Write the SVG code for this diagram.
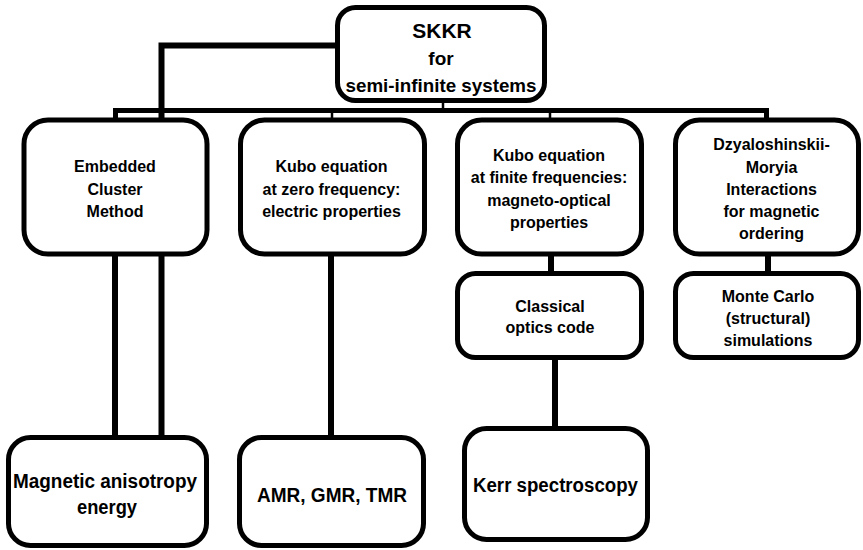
<svg xmlns="http://www.w3.org/2000/svg" width="863" height="550" viewBox="0 0 863 550">
  <style>
    .box { fill: #fff; stroke: #000; stroke-width: 5; }
    .wire { fill: none; stroke: #000; stroke-width: 6; }
    .bar { fill: none; stroke: #000; stroke-width: 5; }
    .tick { fill: none; stroke: #000; stroke-width: 2.5; }
    text { font-family: "Liberation Sans", Arial, sans-serif; font-weight: bold; fill: #000; text-anchor: middle; }
    .t16 { font-size: 16px; }
    .t20 { font-size: 20px; }
  </style>
  <rect width="863" height="550" fill="#fff"/>

  <!-- connectors -->
  <g id="connectors">
    <path class="wire" d="M337 45.5 H161.5 V119"/>
    <path class="bar" d="M115.5 118 V110.5 H766.5 V118"/>
    <path class="tick" d="M443 100 V110"/>
    <path class="tick" d="M332 110 V118"/>
    <path class="tick" d="M550 110 V118"/>
    <path class="wire" d="M115 254 V437"/>
    <path class="wire" d="M161.5 254 V437"/>
    <path class="wire" d="M331 254 V437"/>
    <path class="wire" d="M551 254 V274"/>
    <path class="wire" d="M768 254 V274"/>
    <path class="wire" d="M555 357 V429"/>
  </g>

  <g id="skkr">
    <rect class="box" x="337.5" y="7.5" width="207" height="93" rx="18"/>
    <text x="442" y="37.5" style="font-size:21px">SKKR</text>
    <text x="441" y="65" style="font-size:19px">for</text>
    <text x="441" y="91.5" style="font-size:19px" textLength="191" lengthAdjust="spacingAndGlyphs">semi-infinite systems</text>
  </g>

  <g id="embedded-cluster">
    <rect class="box" x="24" y="120" width="183" height="134" rx="24"/>
    <text class="t16" x="115" y="172">Embedded</text>
    <text class="t16" x="115" y="194.5">Cluster</text>
    <text class="t16" x="115" y="217">Method</text>
  </g>

  <g id="kubo-zero">
    <rect class="box" x="240.5" y="120" width="184" height="134" rx="24"/>
    <text class="t16" x="331.5" y="172">Kubo equation</text>
    <text class="t16" x="331.5" y="194.5">at zero frequency:</text>
    <text class="t16" x="331.5" y="217">electric properties</text>
  </g>

  <g id="kubo-finite">
    <rect class="box" x="457.5" y="120" width="184" height="134" rx="24"/>
    <text class="t16" x="549" y="160.5">Kubo equation</text>
    <text class="t16" x="549" y="183">at finite frequencies:</text>
    <text class="t16" x="549" y="205.5">magneto-optical</text>
    <text class="t16" x="549" y="228">properties</text>
  </g>

  <g id="dm-interactions">
    <rect class="box" x="675.5" y="120" width="183" height="134" rx="24"/>
    <text class="t16" x="771.5" y="150">Dzyaloshinskii-</text>
    <text class="t16" x="771.5" y="172.5">Moryia</text>
    <text class="t16" x="771.5" y="195">Interactions</text>
    <text class="t16" x="771.5" y="217">for magnetic</text>
    <text class="t16" x="771.5" y="238.5">ordering</text>
  </g>

  <g id="classical-optics">
    <rect class="box" x="457.5" y="273.5" width="184" height="84" rx="18"/>
    <text class="t16" x="550" y="311.5">Classical</text>
    <text class="t16" x="550" y="333">optics code</text>
  </g>

  <g id="monte-carlo">
    <rect class="box" x="675.5" y="273.5" width="183" height="84" rx="18"/>
    <text class="t16" x="768" y="301.5">Monte Carlo</text>
    <text class="t16" x="768" y="324">(structural)</text>
    <text class="t16" x="768" y="346">simulations</text>
  </g>

  <g id="magnetic-anisotropy">
    <rect class="box" x="8.5" y="437.5" width="198" height="108" rx="22"/>
    <text class="t20" x="105" y="488" textLength="184" lengthAdjust="spacingAndGlyphs">Magnetic anisotropy</text>
    <text class="t20" x="107" y="514" textLength="60" lengthAdjust="spacingAndGlyphs">energy</text>
  </g>

  <g id="amr-gmr-tmr">
    <rect class="box" x="239.5" y="437.5" width="184" height="108" rx="22"/>
    <text class="t20" x="332" y="502" textLength="150" lengthAdjust="spacingAndGlyphs">AMR, GMR, TMR</text>
  </g>

  <g id="kerr">
    <rect class="box" x="464.5" y="428.5" width="183" height="111" rx="22"/>
    <text class="t20" x="555.5" y="492" textLength="165" lengthAdjust="spacingAndGlyphs">Kerr spectroscopy</text>
  </g>
</svg>
